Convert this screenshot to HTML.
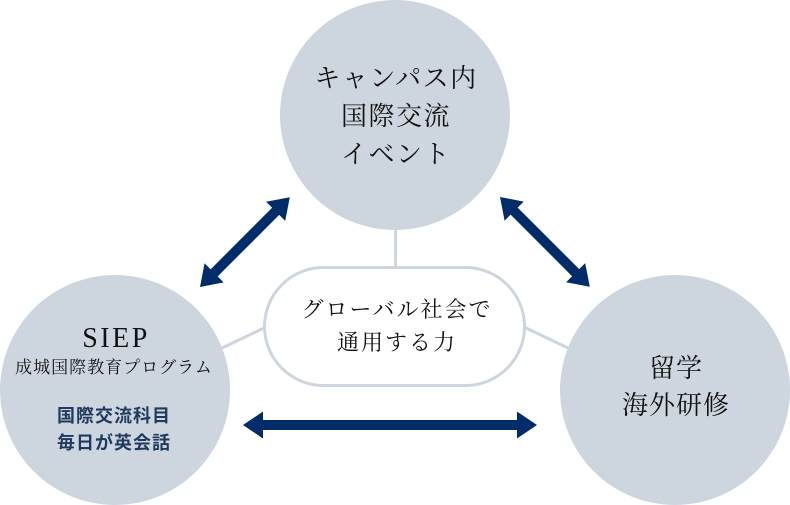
<!DOCTYPE html>
<html><head><meta charset="utf-8"><style>
html,body{margin:0;padding:0;background:#fff;}
svg{display:block;}
.s{font-family:"Liberation Serif","Noto Serif CJK SC",serif;fill:#111;}
.g{font-family:"Liberation Sans","Noto Sans CJK JP",sans-serif;font-weight:bold;fill:#1f3a5e;}
</style></head><body>
<svg width="790" height="505" viewBox="0 0 790 505" xmlns="http://www.w3.org/2000/svg">
<g stroke="#cdd6de" stroke-width="3" fill="none">
<line x1="395.5" y1="225" x2="395.5" y2="268"/>
<line x1="222" y1="348" x2="266" y2="327"/>
<line x1="524" y1="327" x2="568" y2="348"/>
</g>
<circle cx="395" cy="115" r="115" fill="#cdd6df"/>
<circle cx="115" cy="390" r="115" fill="#cdd6df"/>
<circle cx="675" cy="390" r="115" fill="#cdd6df"/>
<rect x="264.5" y="267.5" width="260" height="118" rx="59" ry="59" fill="#fff" stroke="#cdd6de" stroke-width="3"/>
<g fill="#002d69">
<polygon points="243,425 263,411.5 263,420 517,420 517,411.5 537,425 517,438.5 517,430 263,430 263,438.5"/>
<polygon transform="translate(200,287) rotate(-45)" points="0,0 20,-13.5 20,-5 107,-5 107,-13.5 127,0 107,13.5 107,5 20,5 20,13.5"/>
<polygon transform="translate(500,197) rotate(45)" points="0,0 20,-13.5 20,-5 107,-5 107,-13.5 127,0 107,13.5 107,5 20,5 20,13.5"/>
</g>
<g class="s" text-anchor="middle" font-size="26">
<text x="396" y="87" letter-spacing="1.5">キャンパス内</text>
<text x="396" y="125" letter-spacing="1.5">国際交流</text>
<text x="396" y="163" letter-spacing="1.5">イベント</text>
<text x="676" y="377" letter-spacing="1">留学</text>
<text x="676" y="414" letter-spacing="1">海外研修</text>
</g>
<g class="s" text-anchor="middle" font-size="22">
<text x="397" y="317" letter-spacing="2">グローバル社会で</text>
<text x="397" y="350" letter-spacing="2">通用する力</text>
</g>
<text class="s" x="116" y="347" text-anchor="middle" font-size="28" letter-spacing="2.5">SIEP</text>
<text class="s" x="114" y="373" text-anchor="middle" font-size="17" letter-spacing="1">成城国際教育プログラム</text>
<g class="g" text-anchor="middle" font-size="18">
<text x="114" y="422" letter-spacing="1">国際交流科目</text>
<text x="114" y="449" letter-spacing="1">毎日が英会話</text>
</g>
</svg>
</body></html>
